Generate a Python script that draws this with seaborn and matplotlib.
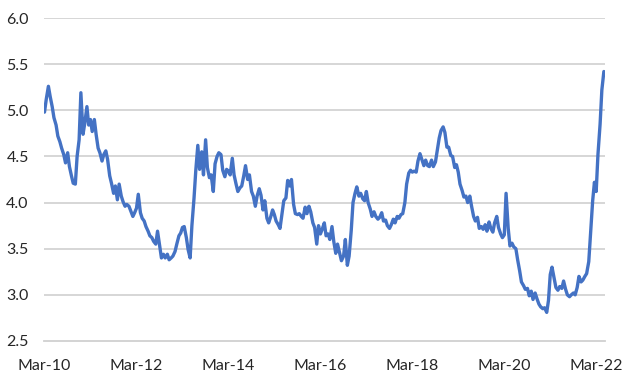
import pandas as pd
import matplotlib
matplotlib.use("Agg")
import matplotlib.pyplot as plt
import seaborn as sns

# Semi-monthly readings, Mar-2010 .. May-2022
vals_2010_2011 = [4.98, 5.12, 5.26, 5.15, 5.04, 4.92, 4.84, 4.72, 4.66, 4.59, 4.52, 4.43,
                  4.54, 4.39, 4.29, 4.21, 4.20, 4.50, 4.68, 5.19, 4.74, 4.86, 5.04, 4.84,
                  4.90, 4.77, 4.90, 4.74, 4.59, 4.54, 4.45, 4.52, 4.56, 4.47, 4.29, 4.21,
                  4.10, 4.18, 4.03, 4.20, 4.07, 4.01, 3.96]
vals_2012_2013 = [3.98, 3.96, 3.91, 3.85, 3.89, 3.94, 4.09, 3.89, 3.83, 3.80, 3.74, 3.69,
                  3.64, 3.62, 3.58, 3.55, 3.69, 3.53, 3.40, 3.44, 3.40, 3.44, 3.38, 3.40,
                  3.42, 3.47, 3.55, 3.64, 3.67, 3.73, 3.74, 3.62, 3.49, 3.40, 3.75, 4.05,
                  4.35, 4.62, 4.36, 4.55]
vals_2013_2015 = [4.30, 4.68, 4.38, 4.27, 4.30, 4.12, 4.42, 4.50, 4.54, 4.52, 4.35, 4.28,
                  4.36, 4.34, 4.30, 4.48, 4.30, 4.20, 4.12, 4.16, 4.18, 4.29, 4.40, 4.25,
                  4.30, 4.12, 4.07, 3.96, 4.07, 4.15, 4.08, 3.92, 4.02, 3.83, 3.78, 3.85,
                  3.92, 3.87, 3.80, 3.76, 3.72, 3.88, 4.02]
vals_2015_2017 = [4.05, 4.24, 4.18, 4.25, 3.98, 3.88, 3.87, 3.88, 3.85, 3.83, 3.95, 3.88,
                  3.96, 3.90, 3.78, 3.73, 3.55, 3.75, 3.66, 3.71, 3.78, 3.64, 3.66, 3.60,
                  3.74, 3.58, 3.45, 3.55, 3.45, 3.37, 3.42, 3.60, 3.32, 3.42, 3.70, 4.00,
                  4.10, 4.17, 4.07, 4.10, 4.04, 4.02]
vals_2017_2018 = [4.12, 4.00, 3.93, 3.85, 3.90, 3.85, 3.82, 3.84, 3.89, 3.80, 3.81, 3.75,
                  3.72, 3.76, 3.82, 3.78, 3.85, 3.83, 3.87, 3.88, 4.00, 4.20, 4.32, 4.35,
                  4.33, 4.34, 4.33, 4.45, 4.53, 4.47, 4.40, 4.46, 4.40, 4.39, 4.46, 4.39,
                  4.44, 4.56, 4.70, 4.78]
vals_2018_2020 = [4.82, 4.76, 4.60, 4.60, 4.51, 4.50, 4.38, 4.41, 4.33, 4.20, 4.13, 4.06,
                  4.07, 4.00, 4.07, 3.96, 3.85, 3.80, 3.84, 3.72, 3.74, 3.71, 3.76, 3.69,
                  3.79, 3.72, 3.68, 3.78, 3.85, 3.73, 3.66, 3.62, 3.65, 4.10, 3.72, 3.53,
                  3.56, 3.52, 3.50, 3.38, 3.26, 3.14, 3.10]
vals_2020_2022 = [3.06, 3.07, 2.99, 3.04, 2.95, 3.02, 2.96, 2.90, 2.87, 2.85, 2.86, 2.81,
                  2.94, 3.22, 3.30, 3.18, 3.08, 3.05, 3.09, 3.07, 3.15, 3.06, 3.00, 2.98,
                  3.00, 3.02, 3.00, 3.08, 3.20, 3.14, 3.16, 3.20, 3.23, 3.36, 3.65, 4.02,
                  4.22, 4.12, 4.52, 4.85, 5.22, 5.42]

tick_labels = ["Mar-10", "Mar-12", "Mar-14", "Mar-16", "Mar-18", "Mar-20", "Mar-22"]
y_ticks = [2.5, 3.0, 3.5, 4.0, 4.5, 5.0, 5.5, 6.0]

values = (vals_2010_2011 + vals_2012_2013 + vals_2013_2015 + vals_2015_2017
          + vals_2017_2018 + vals_2018_2020 + vals_2020_2022)
df = pd.DataFrame({
    "date": pd.date_range("2010-03-01", periods=len(values), freq="SMS"),
    "value": values,
})

sns.set_style("white")
plt.rcParams["font.family"] = ["Lato", "DejaVu Sans"]

fig = plt.figure(figsize=(6.34, 3.87), dpi=100)
ax = fig.add_axes([44 / 634, 46 / 387, 561 / 634, 323 / 387])

sns.lineplot(data=df, x="date", y="value", ax=ax, color="#4472C4", linewidth=2.4)

ax.set_ylim(2.5, 6.0)
ax.set_yticks(y_ticks)
ax.set_yticklabels([f"{v:.1f}" for v in y_ticks])
ax.set_xlim(pd.Timestamp("2010-02-25"), pd.Timestamp("2022-05-10"))
tick_dates = pd.to_datetime(tick_labels, format="%b-%y")
ax.set_xticks(tick_dates)
ax.set_xticklabels(tick_labels)

# horizontal gridlines only
for v in y_ticks[1:]:
    ax.axhline(v, color="#D3D3D3", linewidth=1.3, zorder=0)

for side in ["left", "right", "top"]:
    ax.spines[side].set_visible(False)
ax.spines["bottom"].set_color("#D0D0D0")
ax.spines["bottom"].set_linewidth(1.3)

ax.tick_params(axis="y", length=0, pad=11, labelsize=11.5, labelcolor="#262626")
ax.tick_params(axis="x", length=5, width=1.2, color="#D0D0D0", pad=8,
               labelsize=11.5, labelcolor="#262626")
ax.set_xlabel("")
ax.set_ylabel("")
ax.grid(False)

fig.savefig("out.png", dpi=100)
